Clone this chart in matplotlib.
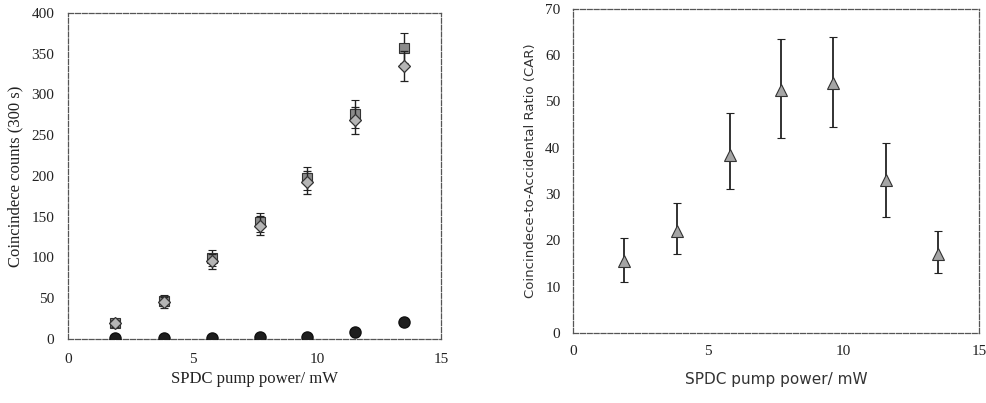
import numpy as np
import matplotlib
matplotlib.use("Agg")
import matplotlib.pyplot as plt

# 泵浦功率 (mW)
power = [1.9, 3.85, 5.8, 7.7, 9.6, 11.55, 13.5]

# 左图：符合计数 (300 s)
counts_sq = [20, 47, 99, 143, 197, 276, 357]
counts_dm = [19, 45, 95, 139, 192, 268, 335]
counts_acc = [1, 1, 1, 2, 2, 8, 21]

# 右图：CAR 及误差上下限
car = [15.5, 22, 38.5, 52.5, 54, 33, 17]
car_lo = [11, 17, 31, 42, 44.5, 25, 13]
car_hi = [20.5, 28, 47.5, 63.5, 64, 41, 22]

x_ticks = [0, 5, 10, 15]
y_ticks_left = [0, 50, 100, 150, 200, 250, 300, 350, 400]
y_ticks_right = [0, 10, 20, 30, 40, 50, 60, 70]

fig = plt.figure(figsize=(9.87, 4.03), dpi=100)
ax1 = fig.add_axes([0.069, 0.159, 0.378, 0.809])
ax2 = fig.add_axes([0.5805, 0.174, 0.4114, 0.804])

serif = ["Liberation Serif", "DejaVu Serif"]
txt = "#222222"

# 左图
err_sq = np.sqrt(counts_sq)
err_dm = np.sqrt(counts_dm)
ax1.errorbar(power, counts_sq, yerr=err_sq, fmt="s", ms=7.5, mfc="#8a8a8a",
             mec="#333333", mew=0.8, ecolor="#222222", elinewidth=1, capsize=3,
             zorder=3, hatch=None)
ax1.errorbar(power, counts_dm, yerr=err_dm, fmt="D", ms=6.5, mfc="#b5b5b5",
             mec="#333333", mew=0.9, ecolor="#222222", elinewidth=1, capsize=3, zorder=4)
ax1.plot(power, counts_acc, "o", ms=8, mfc="#1e1e1e", mec="#111111", zorder=5)

ax1.set_xlim(0, 15)
ax1.set_ylim(0, 400)
ax1.set_xticks(x_ticks)
ax1.set_yticks(y_ticks_left)
ax1.tick_params(length=0, pad=10, labelsize=11, labelcolor=txt)
for lab in ax1.get_xticklabels() + ax1.get_yticklabels():
    lab.set_family(serif)
ax1.set_xlabel("SPDC pump power/ mW", family=serif, fontsize=12, color=txt, labelpad=4)
ax1.set_ylabel("Coincindece counts (300 s)", family=serif, fontsize=12, color=txt, labelpad=6)
for s in ax1.spines.values():
    s.set_color("#555555")
    s.set_linewidth(0.9)
    s.set_linestyle((0, (4, 1.5)))

# 右图
yerr = [np.subtract(car, car_lo), np.subtract(car_hi, car)]
ax2.errorbar(power, car, yerr=yerr, fmt="^", ms=8.5, mfc="#a5a5a5",
             mec="#333333", mew=0.8, ecolor="#222222", elinewidth=1.3, capsize=3, zorder=3)
ax2.set_xlim(0, 15)
ax2.set_ylim(0, 70)
ax2.set_xticks(x_ticks)
ax2.set_yticks(y_ticks_right)
ax2.tick_params(length=0, pad=9, labelsize=11, labelcolor=txt)
for lab in ax2.get_xticklabels() + ax2.get_yticklabels():
    lab.set_family(serif)
ax2.set_xlabel("SPDC pump power/ mW", family="DejaVu Sans", fontsize=11,
               color="#333333", labelpad=10)
ax2.set_ylabel("Coincindece-to-Accidental Ratio (CAR)", family="DejaVu Sans",
               fontsize=9.5, color="#333333", labelpad=6)
for s in ax2.spines.values():
    s.set_color("#555555")
    s.set_linewidth(0.9)
    s.set_linestyle((0, (4, 1.5)))

fig.savefig("out.png", dpi=100)
